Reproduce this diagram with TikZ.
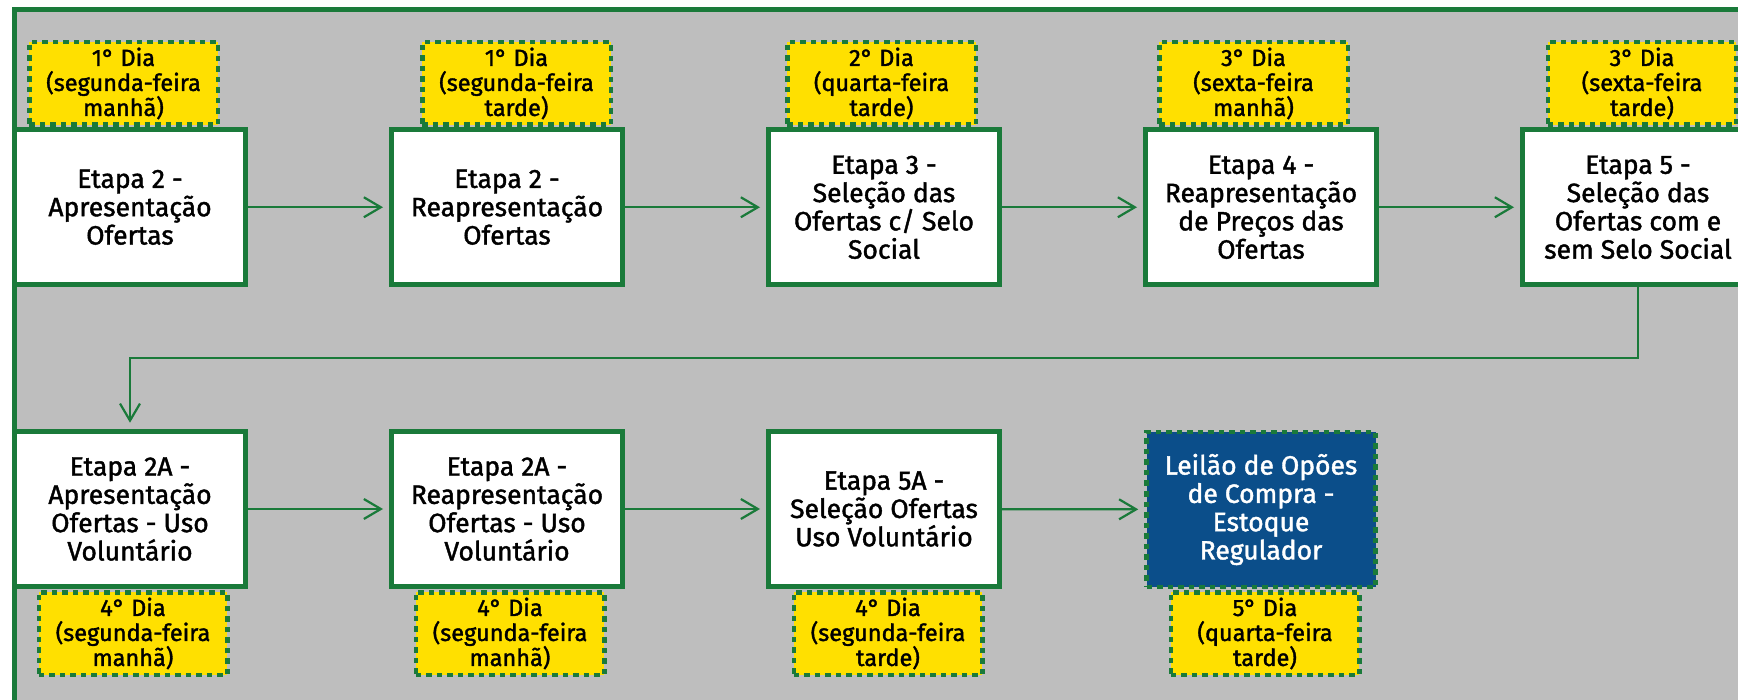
\documentclass[tikz,border=0pt]{standalone}
\usepackage{fontspec}
\setmainfont{Fira Sans}[BoldFont={Fira Sans},BoldFeatures={FakeBold=1.5}]
\usetikzlibrary{arrows.meta}
\definecolor{fgreen}{RGB}{26,122,58}
\definecolor{dyellow}{RGB}{255,224,0}
\definecolor{bggray}{RGB}{190,190,190}
\definecolor{dblue}{RGB}{11,78,138}
\begin{document}
\begin{tikzpicture}[x=1pt,y=-1pt,
  stepbox/.style={draw=fgreen, line width=5pt, fill=white, minimum width=231pt,
    minimum height=155.5pt, inner sep=0pt, align=center,
    font=\fontsize{26.5}{28.3}\selectfont\bfseries},
  daybox/.style={draw=fgreen, line width=4.5pt, dash pattern=on 5.5pt off 5pt,
    fill=dyellow, minimum width=188.5pt, minimum height=82.5pt, inner sep=0pt,
    align=center, font=\fontsize{23.5}{25}\selectfont\bfseries},
  auctionbox/.style={draw=fgreen, line width=4.5pt, dash pattern=on 5.5pt off 5pt,
    fill=dblue, text=white, minimum width=229pt, minimum height=155pt,
    inner sep=0pt, align=center, font=\fontsize{26.5}{28.3}\selectfont\bfseries},
  conn/.style={draw=fgreen, line width=2.2pt,
    -{Straight Barb[length=17pt,width=20pt]}, shorten >=6pt}
]
\useasboundingbox (0,0) rectangle (1738,700);
\fill[white] (0,0) rectangle (1738,700);
\clip (0,0) rectangle (1738,700);
\draw[fgreen, line width=5pt, fill=bggray] (14.5,10) rectangle (1790,750);

% day labels, top row
\node[daybox] (l1) at (123.5,83.5) {1° Dia\\(segunda-feira\\manhã)};
\node[daybox] (l2) at (516.5,83.5) {1° Dia\\(segunda-feira\\tarde)};
\node[daybox] (l3) at (881.5,83.5) {2° Dia\\(quarta-feira\\tarde)};
\node[daybox] (l4) at (1253.5,83.5) {3° Dia\\(sexta-feira\\manhã)};
\node[daybox] (l5) at (1642,83.5) {3° Dia\\(sexta-feira\\tarde)};

% day labels, bottom row
\node[daybox] (m1) at (133,633.5) {4° Dia\\(segunda-feira\\manhã)};
\node[daybox] (m2) at (510,633.5) {4° Dia\\(segunda-feira\\manhã)};
\node[daybox] (m3) at (888,633.5) {4° Dia\\(segunda-feira\\tarde)};
\node[daybox] (m4) at (1265,633.5) {5° Dia\\(quarta-feira\\tarde)};

% top row steps
\node[stepbox] (b1) at (130,207.25) {Etapa 2 -\\Apresentação\\Ofertas};
\node[stepbox] (b2) at (507,207.25) {Etapa 2 -\\Reapresentação\\Ofertas};
\node[stepbox] (b3) at (884,207.25) {Etapa 3 -\\Seleção das\\Ofertas c/ Selo\\Social};
\node[stepbox] (b4) at (1261,207.25) {Etapa 4 -\\Reapresentação\\de Preços das\\Ofertas};
\node[stepbox] (b5) at (1638,207.25) {Etapa 5 -\\Seleção das\\Ofertas com e\\sem Selo Social};

% bottom row steps
\node[stepbox] (c1) at (130,509) {Etapa 2A -\\Apresentação\\Ofertas - Uso\\Voluntário};
\node[stepbox] (c2) at (507,509) {Etapa 2A -\\Reapresentação\\Ofertas - Uso\\Voluntário};
\node[stepbox] (c3) at (884,509) {Etapa 5A -\\Seleção Ofertas\\Uso Voluntário};
\node[auctionbox] (d) at (1261,509.5) {Leilão de Opões\\de Compra -\\Estoque\\Regulador};

% connectors
\draw[conn] (b1) -- (b2);
\draw[conn] (b2) -- (b3);
\draw[conn] (b3) -- (b4);
\draw[conn] (b4) -- (b5);
\coordinate (turn) at (1638,358);
\draw[conn] (b5.south) -- (turn) -| (c1.north);
\draw[conn] (c1) -- (c2);
\draw[conn] (c2) -- (c3);
\draw[conn] (c3) -- (d);
\end{tikzpicture}
\end{document}
